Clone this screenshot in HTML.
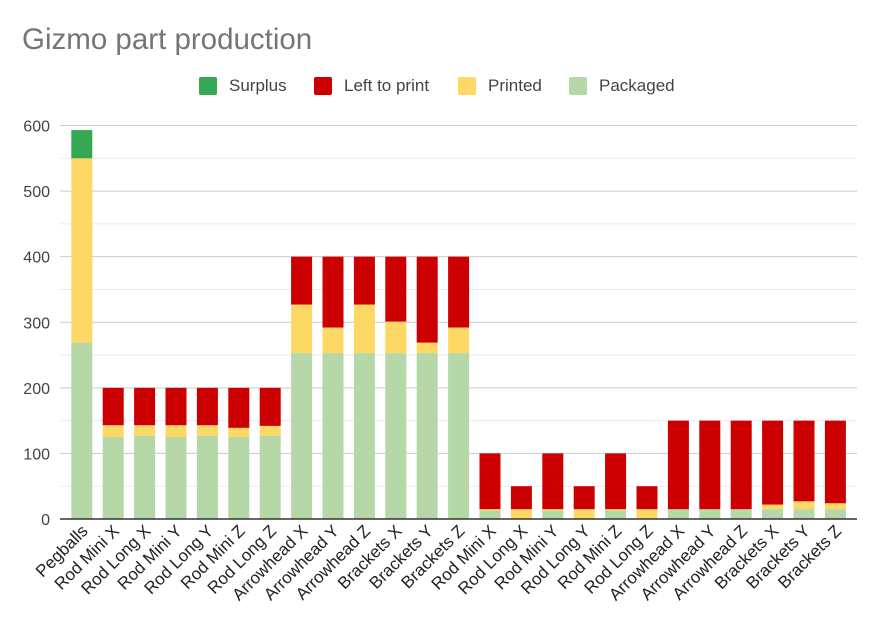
<!DOCTYPE html>
<html><head><meta charset="utf-8"><style>
body{margin:0;background:#fff;font-family:"Liberation Sans",Arial,sans-serif;}
svg text{font-family:"Liberation Sans",Arial,sans-serif;}
</style></head><body>
<svg id="chart" width="877" height="631" viewBox="0 0 877 631" xmlns="http://www.w3.org/2000/svg">
<rect width="877" height="631" fill="#fff"/>
<text x="22" y="49" font-size="29.5" fill="#757575">Gizmo part production</text>
<g id="legend">
 <rect x="199" y="77" width="18" height="18" rx="2" fill="#34a853"/><text x="229" y="91" font-size="17" fill="#444">Surplus</text>
 <rect x="314" y="77" width="18" height="18" rx="2" fill="#cc0000"/><text x="344" y="91" font-size="17" fill="#444">Left to print</text>
 <rect x="458" y="77" width="18" height="18" rx="2" fill="#fdd865"/><text x="488" y="91" font-size="17" fill="#444">Printed</text>
 <rect x="569" y="77" width="18" height="18" rx="2" fill="#b6d7a8"/><text x="599" y="91" font-size="17" fill="#444">Packaged</text>
</g>
<g id="grid"></g><g id="bars"></g><g id="labels"></g>
</svg>
<script>
const categories=["Pegballs","Rod Mini X","Rod Long X","Rod Mini Y","Rod Long Y","Rod Mini Z","Rod Long Z","Arrowhead X","Arrowhead Y","Arrowhead Z","Brackets X","Brackets Y","Brackets Z","Rod Mini X","Rod Long X","Rod Mini Y","Rod Long Y","Rod Mini Z","Rod Long Z","Arrowhead X","Arrowhead Y","Arrowhead Z","Brackets X","Brackets Y","Brackets Z"];
const packaged=[269,125,127,125,127,125,127,253,253,253,253,253,253,13,0,13,0,13,0,15,15,15,15,15,15];
const printed=[281,18,16,18,16,14,15,74,39,74,48,16,39,2,15,2,15,2,15,0,0,0,7,12,9];
const leftToPrint=[0,57,57,57,57,61,58,73,108,73,99,131,108,85,35,85,35,85,35,135,135,135,128,123,126];
const surplus=[43,0,0,0,0,0,0,0,0,0,0,0,0,0,0,0,0,0,0,0,0,0,0,0,0];
const yTicks=[0,100,200,300,400,500,600];
const NS="http://www.w3.org/2000/svg";
const x0=66.1,band=31.4,bw=21,yBase=519,yTop=125.5,yMax=600;
function yScale(v){return yBase-(v/yMax)*(yBase-yTop);}
function xScale(i){return x0+i*band+band/2;}
function mk(t,a){const e=document.createElementNS(NS,t);for(const k in a)e.setAttribute(k,a[k]);return e;}
const grid=document.getElementById('grid');
for(let v=50;v<=yMax;v+=50){
 const l=mk('line',{x1:60,x2:857,y1:yScale(v),y2:yScale(v),stroke:v%100?'#ebebeb':'#cccccc','stroke-width':1});
 
 
 grid.appendChild(l);
}
yTicks.forEach(v=>{
 const t=mk('text',{x:50,y:yScale(v)+6,'text-anchor':'end','font-size':16,fill:'#444'});
 t.textContent=v;
 
 
 grid.appendChild(t);
});
const bars=document.getElementById('bars');
const series=[[packaged,'#b6d7a8','packaged'],[printed,'#fdd865','printed'],[leftToPrint,'#cc0000','left-to-print'],[surplus,'#34a853','surplus']];
categories.forEach((c,i)=>{
 let acc=0;
 series.forEach(([arr,col,nm])=>{
  const v=arr[i];if(!v)return;
  const r=mk('rect',{x:xScale(i)-bw/2,y:yScale(acc+v),width:bw,height:yScale(acc)-yScale(acc+v),fill:col});
  
  
  bars.appendChild(r);acc+=v;
 });
});
const ax=mk('line',{x1:60,x2:857,y1:yBase,y2:yBase,stroke:'#333','stroke-width':1.5});


bars.appendChild(ax);
const labels=document.getElementById('labels');
categories.forEach((c,i)=>{
 const x=xScale(i)+7,y=yBase+13;
 const t=mk('text',{x:x,y:y,'text-anchor':'end','font-size':17,fill:'#222',transform:`rotate(-45 ${x} ${y})`});
 t.textContent=c;
 
 
 labels.appendChild(t);
});
</script>
</body></html>
